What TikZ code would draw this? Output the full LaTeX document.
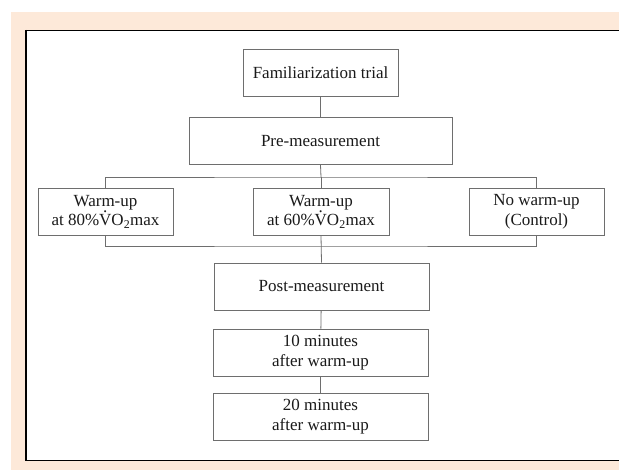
\documentclass[tikz,border=0pt]{standalone}
\usepackage{fontspec}
\setmainfont{Liberation Serif}
\definecolor{pagebeige}{HTML}{FDE9D9}
\definecolor{boxgray}{HTML}{6E6E6E}
\definecolor{inkgray}{HTML}{1A1A1A}
\newcommand{\Vdot}{\ooalign{V\cr\hidewidth\raisebox{0.74em}{.}\hidewidth\cr}}
\newcommand{\vomax}{\Vdot O\textsubscript{2}max}
\tikzset{
  stage/.style={draw=boxgray, line width=0.9pt, fill=white, align=center,
    inner sep=0pt, minimum height=47, text=inkgray,
    font=\fontsize{17}{19.5}\selectfont},
  link/.style={draw=boxgray, line width=0.8pt}
}
\begin{document}
\begin{tikzpicture}[x=1pt,y=-1pt]
\useasboundingbox (0,0) rectangle (619,470);
\clip (0,0) rectangle (619,470);

% Page background and frame
\fill[white] (0,0) rectangle (619,470);
\fill[pagebeige] (11,12) rectangle (619,470);
\draw[fill=white, line width=1.2pt] (26,30.6) rectangle (625,460.4);
\draw[line width=2.2pt] (26,30) -- (26,461);

% Stages
\node[stage, minimum width=155] (fam) at (320.5,72.5) {Familiarization trial};
\node[stage, minimum width=263] (pre) at (320.5,141) {Pre-measurement};
\node[stage, minimum width=135] (warmhigh) at (105.5,211.5) {Warm-up\\at 80\%\vomax};
\node[stage, minimum width=136] (warmlow) at (321,211.5) {Warm-up\\at 60\%\vomax};
\node[stage, minimum width=135] (control) at (536.5,211.5) {No warm-up\\(Control)};
\node[stage, minimum width=215] (post) at (321.5,286.5) {Post-measurement};
\node[stage, minimum width=215] (ten) at (320.5,352.5) {10 minutes\\after warm-up};
\node[stage, minimum width=215] (twenty) at (320.5,416.5) {20 minutes\\after warm-up};

% Connectors
\coordinate (split) at (321,177);
\coordinate (merge) at (321,246);
\draw[link] (fam) -- (pre);
\draw[link] (pre.south) -- (split);
\draw[link] (warmhigh.north) |- (split) -| (control.north);
\draw[link] (split) -- (warmlow.north);
\draw[link] (warmhigh.south) |- (merge) -| (control.south);
\draw[link] (warmlow.south) -- (post.north);
\draw[link] (post) -- (ten);
\draw[link] (ten) -- (twenty);

\end{tikzpicture}
\end{document}
